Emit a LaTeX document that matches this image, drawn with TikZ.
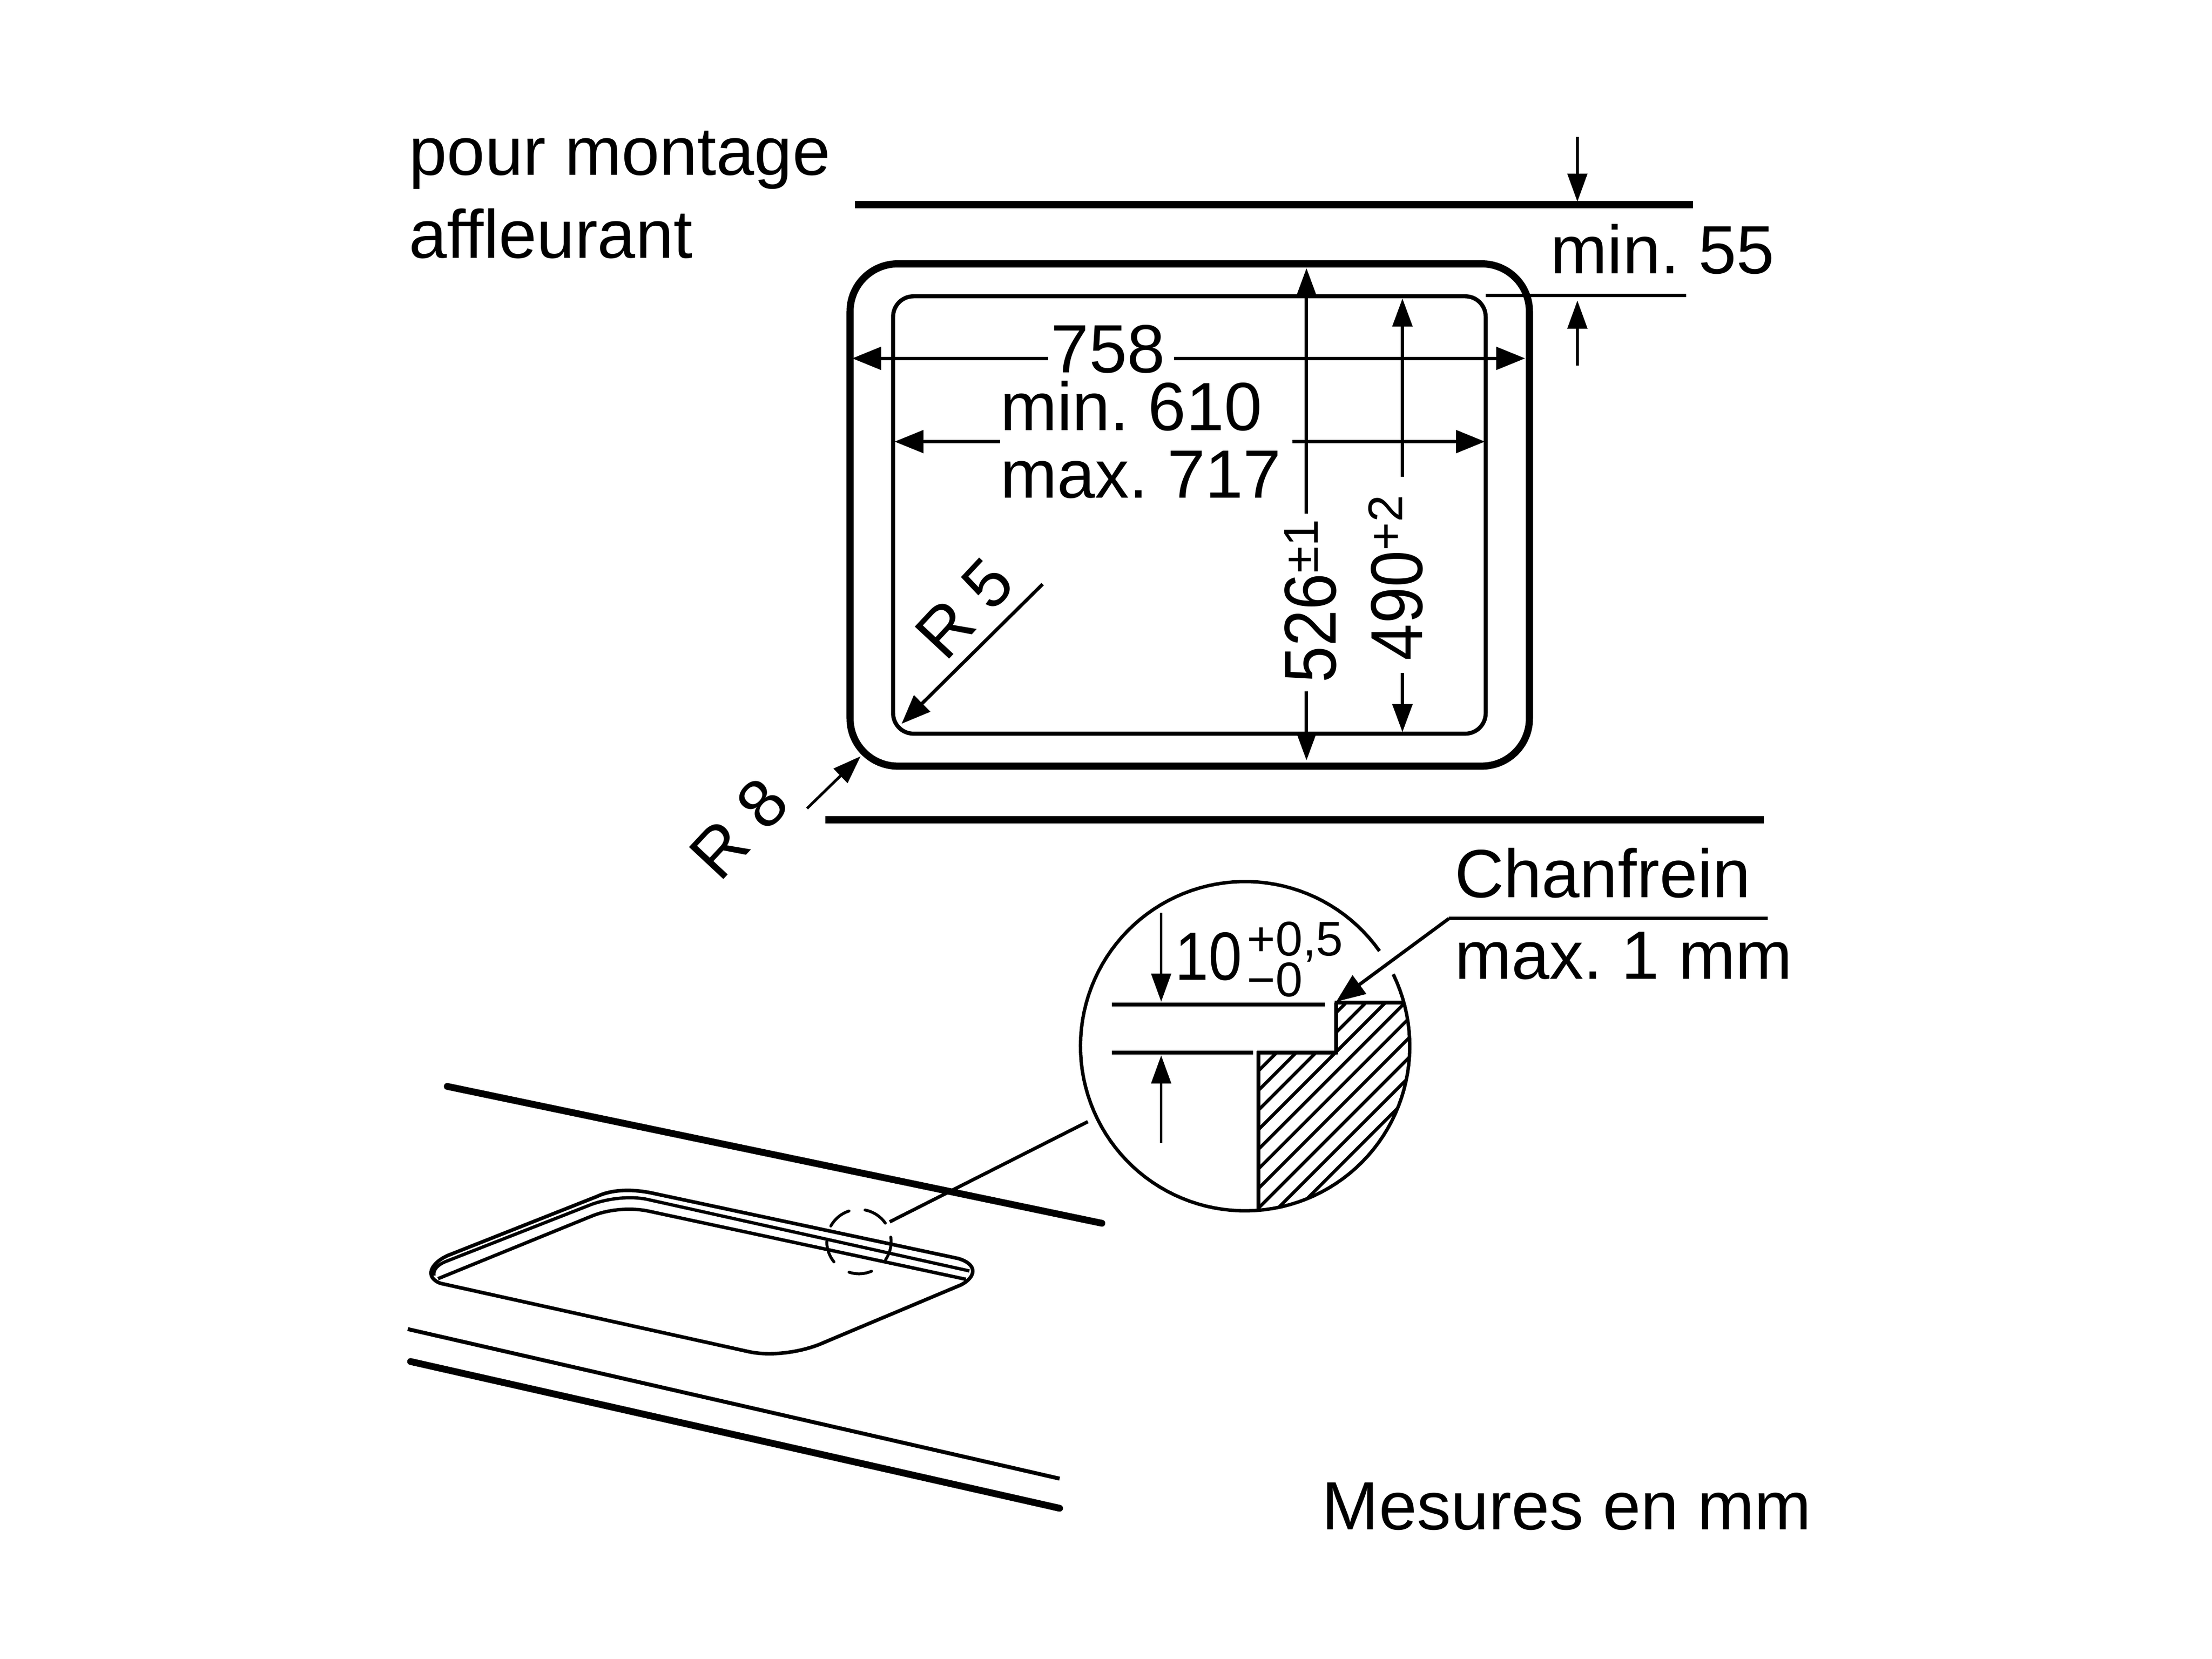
\documentclass[tikz,border=0pt]{standalone}
\usepackage{fontspec}
\setmainfont{Liberation Sans}
\usetikzlibrary{arrows.meta}
\newcommand{\fbig}{\fontsize{40}{48}\selectfont}
\newcommand{\fdim}{\fontsize{38.5}{46}\selectfont}
\newcommand{\fsmall}{\fontsize{28.5}{34}\selectfont}
\frenchspacing
\tikzset{
  bigtip/.tip={Triangle[length=17pt,width=13.2pt]},
  midtip/.tip={Triangle[length=16.5pt,width=11.5pt]},
  dimline/.style={line width=2pt},
  heavy/.style={line width=4.2pt},
  medium/.style={line width=2.4pt},
  thinl/.style={line width=1.6pt},
  lbl/.style={inner sep=0pt,outer sep=0pt,anchor=base west,font=\fbig},
}
\begin{document}
\begin{tikzpicture}[x=0.02906cm,y=-0.02906cm]
\useasboundingbox (0,0) rectangle (1567.8,1175.8);
\fill[white] (0,0) rectangle (1567.8,1175.8);

% --- top view
\draw[heavy,rounded corners=0.98cm] (602.5,187) rectangle (1084,543);
\draw[medium,rounded corners=0.42cm] (633,210) rectangle (1053,520);
\draw[heavy] (606,145) -- (1200,145);
\draw[heavy] (585,581) -- (1250,581);

\node[lbl] (t1) at (290,124) {pour montage};
\node[lbl] (t2) at (290,183) {affleurant};
\node[lbl] (t3) at (1099,194) {min. 55};
\coordinate (a55a) at (1118,97);
\coordinate (a55b) at (1118,143);
\coordinate (a55c) at (1118,259);
\coordinate (a55d) at (1118,213);
\draw[thinl,-{midtip}] (a55a) -- (a55b);
\draw[thinl,-{midtip}] (a55c) -- (a55d);
\draw[dimline] (1053,209.5) -- (1195,209.5);

\node[lbl] (t758) at (745,264) {758};
\node[lbl] (t610) at (709,305) {min. 610};
\node[lbl] (t717) at (709,353) {max. 717};
\draw[dimline,{bigtip}-] (604,254) -- (743,254);
\draw[dimline,-{bigtip}] (832,254) -- (1081,254);
\draw[dimline,{bigtip}-] (634,313) -- (709,313);
\draw[dimline,-{bigtip}] (916,313) -- (1052.5,313);
\draw[dimline,{midtip}-] (926,190) -- (926,364);
\draw[dimline,-{midtip}] (926,490) -- (926,539);
\draw[dimline,{midtip}-] (994,211.5) -- (994,338);
\draw[dimline,-{midtip}] (994,477) -- (994,519);
\node[lbl,rotate=90,font=\fdim] (t526) at (947,484) {\scalebox{1}[1.12]{526}\raisebox{10.7pt}{\fsmall ±1}};
\node[lbl,rotate=90,font=\fdim] (t490) at (1008,468) {\scalebox{1}[1.12]{490}\raisebox{11.5pt}{\fsmall +2}};

\coordinate (r5a) at (739,414);
\coordinate (r5b) at (639,513);
\draw[dimline,-{bigtip}] (r5a) -- (r5b);
\node[lbl,rotate=47] (tr5) at (670,470) {R 5};
\coordinate (r8a) at (572,573);
\coordinate (r8b) at (610,536);
\draw[thinl,-{midtip}] (r8a) -- (r8b);
\node[lbl,rotate=47] (tr8) at (510.2,626) {R 8};

% --- detail circle
\draw[line width=2pt] plot[domain=35.3:385.9,samples=120] ({882.5+116.7*cos(\x)},{741.5-116.7*sin(\x)});
\begin{scope}
  \clip plot[domain=0:360,samples=90] ({882.5+116.7*cos(\x)},{741.5-116.7*sin(\x)}) -- cycle;
  \clip (947,710.5) -- (1010,710.5) -- (1010,870) -- (892,870) -- (892,746) -- (947,746) -- cycle;
  \foreach \k in {-11,...,3}
    \draw[line width=1.9pt] (880,{1734.3+13.9*\k-880}) -- (1020,{1734.3+13.9*\k-1020});
\end{scope}
\draw[medium] (946,710.5) -- (995,710.5);
\draw[medium] (947,710.5) -- (947,747);
\draw[medium] (891,746) -- (948,746);
\draw[medium] (892,745) -- (892,857);
\draw[medium] (788,712) -- (939,712);
\draw[medium] (788,746) -- (888,746);
\draw[thinl,-{midtip}] (823,647) -- (823,710);
\draw[thinl,-{midtip}] (823,810) -- (823,748);
\node[lbl] (t10) at (833,694.5) {\scalebox{.88}[1]{10}};
\node[lbl,font=\fsmall] (tp) at (884,677.5) {+0,5};
\node[lbl,font=\fsmall] (tm) at (884,706.4) {−0};
\node[lbl] (tc) at (1031,636) {Chanfrein};
\node[lbl] (tx) at (1031,694) {max. 1 mm};
\coordinate (ch0) at (1253,651);
\coordinate (ch1) at (1027,651);
\coordinate (ch2) at (947,710);
\draw[dimline] (ch0) -- (ch1);
\draw[dimline,-{bigtip}] (ch1) -- (ch2);

% --- perspective drawing
\draw[line width=4pt,line cap=round] (317,770) -- (781,867);
\draw[line width=2.3pt] (289,942) -- (751,1048);
\draw[line width=4pt,line cap=round] (291,965) -- (751,1069);
\begin{scope}[shift={(275.3,757)},x=0.010203cm,y=-0.006379cm]
  \draw[line width=2.1pt] (1150,615) -- (530,403) .. controls (490,390) and (450,392) .. (420,415)
     -- (120,605) .. controls (85,630) and (72,675) .. (105,695)
     -- (725,915) .. controls (770,932) and (835,918) .. (880,885)
     -- (1155,700) .. controls (1185,675) and (1190,635) .. (1150,615);
  \draw[line width=1.9pt] (1172,655) -- (525,425) .. controls (490,412) and (445,420) .. (410,440)
     -- (115,625) .. controls (100,635) and (90,650) .. (92,670);
  \draw[line width=2pt] (1165,682) -- (525,462) .. controls (490,450) and (445,455) .. (410,478)
     -- (100,680);
\end{scope}
\foreach \a/\b in {108/151,-34/8,35/79,-108/-67,180/219}
  \draw[line width=1.7pt,line cap=round] plot[domain=\a:\b,samples=20] ({608.8+22.8*cos(\x)},{880-22.8*sin(\x)});
\coordinate (lk1) at (630.6,866);
\coordinate (lk2) at (771,795);
\draw[dimline] (lk1) -- (lk2);

\node[lbl] (tm2) at (937,1084) {Mesures en mm};
\end{tikzpicture}
\end{document}
